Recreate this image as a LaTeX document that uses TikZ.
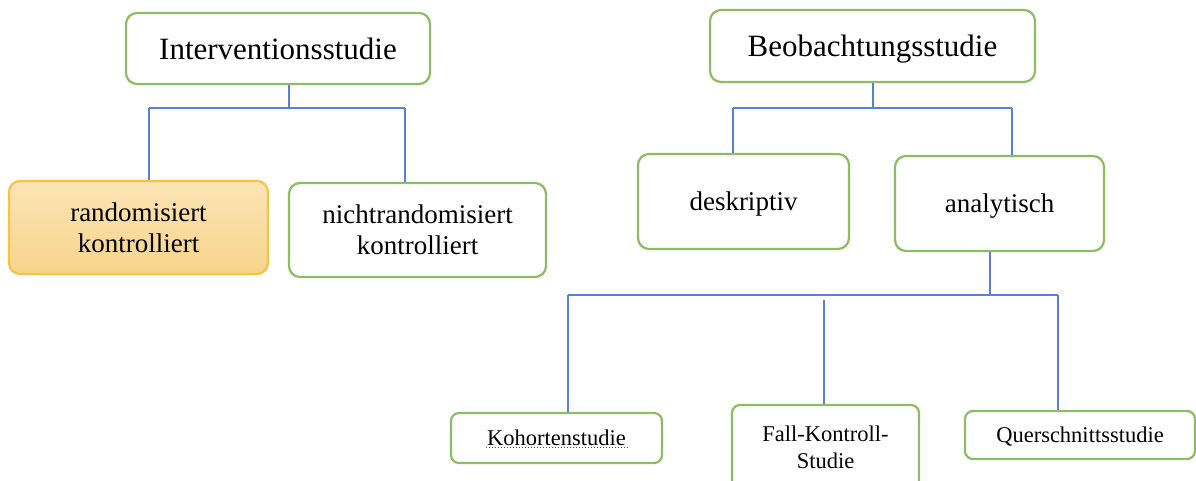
\documentclass[tikz,border=0pt]{standalone}
\usepackage{fontspec}
\setmainfont{Liberation Serif}
\usetikzlibrary{calc}
\definecolor{boxgreen}{HTML}{8CBD60}
\definecolor{linkblue}{HTML}{5A80D0}
\definecolor{orborder}{HTML}{F6C346}
\definecolor{ortop}{HTML}{FBE4B4}
\definecolor{orbot}{HTML}{F8D48C}
\tikzset{
  box/.style={draw=boxgreen, line width=2.2pt, rounded corners=11pt, fill=white,
    align=center, inner sep=0pt, text=black, text depth=0pt},
  bigbox/.style={box, font=\fontsize{31}{35}\selectfont},
  midbox/.style={box, font=\fontsize{27}{31}\selectfont},
  smallbox/.style={box, rounded corners=8pt, font=\fontsize{22.5}{27}\selectfont},
  orangebox/.style={midbox, draw=orborder, top color=ortop, bottom color=orbot},
  link/.style={draw=linkblue, line width=1.8pt}
}
\begin{document}
\begin{tikzpicture}[x=1pt,y=-1pt]
\clip (0,0) rectangle (1196,481);
\fill[white] (0,0) rectangle (1196,481);

% left tree
\node[bigbox, minimum width=304pt, minimum height=71pt] (iv) at (278,48.5) {Interventionsstudie};
\node[orangebox, minimum width=259pt, minimum height=93pt] (rk) at (138.5,227.5) {randomisiert\\kontrolliert};
\node[midbox, minimum width=257pt, minimum height=94pt] (nrk) at (417.5,230) {nichtrandomisiert\\kontrolliert};

% right tree
\node[bigbox, minimum width=325pt, minimum height=72pt] (bs) at (872.5,46) {Beobachtungsstudie};
\node[midbox, minimum width=211pt, minimum height=95pt] (desk) at (743.5,201.5) {deskriptiv};
\node[midbox, minimum width=209pt, minimum height=95pt] (ana) at (999.5,203.5) {analytisch};

\node[smallbox, minimum width=211pt, minimum height=50pt] (koh) at (556.5,438) {Kohortenstudie};
\node[smallbox, minimum width=187pt, minimum height=85pt] (fk) at (825.5,447.5) {Fall-Kontroll-\\Studie};
\node[smallbox, minimum width=230pt, minimum height=48pt] (qs) at (1080,435) {Querschnittsstudie};

% junction coordinates
\coordinate (ivj) at (289,108);
\coordinate (ivl) at (149,108);
\coordinate (ivr) at (405,108);
\coordinate (bsj) at (873,108);
\coordinate (bsl) at (733,108);
\coordinate (bsr) at (1012,108);
\coordinate (anj) at (990,295);
\coordinate (anl) at (568,295);
\coordinate (anr) at (1058,295);
\coordinate (fktop) at (824,300);

% connectors left
\draw[link] (iv.south -| ivj) -- (ivj);
\draw[link] (ivl) -- (ivr);
\draw[link] (ivl) -- (ivl |- rk.north);
\draw[link] (ivr) -- (ivr |- nrk.north);

% connectors right
\draw[link] (bs.south -| bsj) -- (bsj);
\draw[link] (bsl) -- (bsr);
\draw[link] (bsl) -- (bsl |- desk.north);
\draw[link] (bsr) -- (bsr |- ana.north);

\draw[link] (ana.south -| anj) -- (anj);
\draw[link] (anl) -- (anr);
\draw[link] (anl) -- (anl |- koh.north);
\draw[link] (anr) -- (anr |- qs.north);
\draw[link] (fktop) -- (fktop |- fk.north);

% spell-check underline
\draw[red, line width=1.1pt, dash pattern=on 1.5pt off 1.5pt] ($(koh.center)+(-71,9.5)$) -- ($(koh.center)+(73,9.5)$);
\end{tikzpicture}
\end{document}
